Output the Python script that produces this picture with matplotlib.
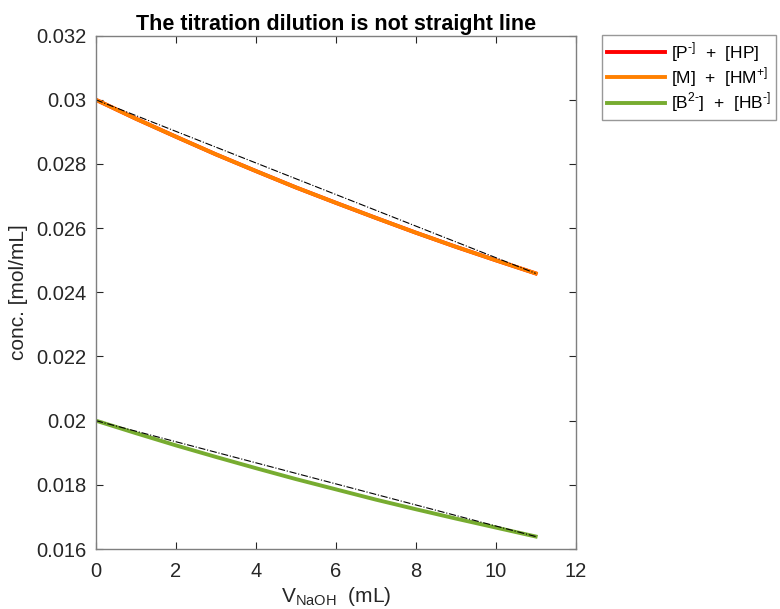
import matplotlib
matplotlib.use("Agg")
import matplotlib.pyplot as plt

plt.rcParams['font.family'] = ['Liberation Sans', 'DejaVu Sans']
plt.rcParams['mathtext.fontset'] = 'custom'
plt.rcParams['mathtext.rm'] = 'Liberation Sans'

# added titrant volume (mL)
v_naoh = [0, 1, 2, 3, 4, 5, 6, 7, 8, 9, 10, 11]
# total concentrations (mol/mL)
conc_p = [0.03000, 0.02941, 0.02885, 0.02830, 0.02778, 0.02727,
          0.02679, 0.02632, 0.02586, 0.02542, 0.02500, 0.02459]
conc_m = [0.03000, 0.02941, 0.02885, 0.02830, 0.02778, 0.02727,
          0.02679, 0.02632, 0.02586, 0.02542, 0.02500, 0.02459]
conc_b = [0.02000, 0.01961, 0.01923, 0.01887, 0.01852, 0.01818,
          0.01786, 0.01754, 0.01724, 0.01695, 0.01667, 0.01639]
# straight reference chords (end points)
chord_x = [0, 11]
chord_top = [0.03000, 0.02459]
chord_bot = [0.02000, 0.01639]

fig = plt.figure(figsize=(7.8, 6.09), dpi=100)
ax = fig.add_axes([0.123, 0.0985, 0.615, 0.843])

ax.plot(v_naoh, conc_p, color='#FF0000', lw=2.8, label=r'[P$^{\text{-]}}$  +  [HP]')
ax.plot(v_naoh, conc_m, color='#FF8000', lw=2.8, label=r'[M]  +  [HM$^{\text{+]}}$')
ax.plot(v_naoh, conc_b, color='#77AC30', lw=2.8, label=r'[B$^{\text{2-}}$]  +  [HB$^{\text{-]}}$')
ax.plot(chord_x, chord_top, color='black', lw=0.8, ls='-.')
ax.plot(chord_x, chord_bot, color='black', lw=0.8, ls='-.')

ax.set_xlim(0, 12)
ax.set_ylim(0.016, 0.032)
ax.set_xticks([0, 2, 4, 6, 8, 10, 12])
ax.set_yticks([0.016, 0.018, 0.02, 0.022, 0.024, 0.026, 0.028, 0.03, 0.032])
ax.set_yticklabels(['0.016', '0.018', '0.02', '0.022', '0.024', '0.026', '0.028', '0.03', '0.032'])
ax.tick_params(direction='in', top=True, right=True, labelsize=14.5, colors='#262626',
               length=5, width=0.8)
ax.tick_params(axis='x', pad=9)
ax.tick_params(axis='y', pad=7)
for s in ax.spines.values():
    s.set_color('#7f7f7f')
    s.set_linewidth(1.0)

ax.set_xlabel(r'V$_{\mathdefault{NaOH}}$  (mL)', fontsize=15, color='#262626', labelpad=3)
ax.set_ylabel('conc. [mol/mL]', fontsize=15, color='#262626', labelpad=6)
ax.set_title('The titration dilution is not straight line', fontsize=15.5, fontweight='bold',
             pad=4)

leg = fig.legend(loc='upper left', bbox_to_anchor=(602 / 780, 1 - 35 / 609),
                 fontsize=12.5, frameon=True, fancybox=False, edgecolor='#7f7f7f',
                 handlelength=3.3, handletextpad=0.35, borderpad=0.3, labelspacing=0.1,
                 borderaxespad=0)
leg.get_frame().set_linewidth(1.0)

fig.savefig('out.png', dpi=100)
